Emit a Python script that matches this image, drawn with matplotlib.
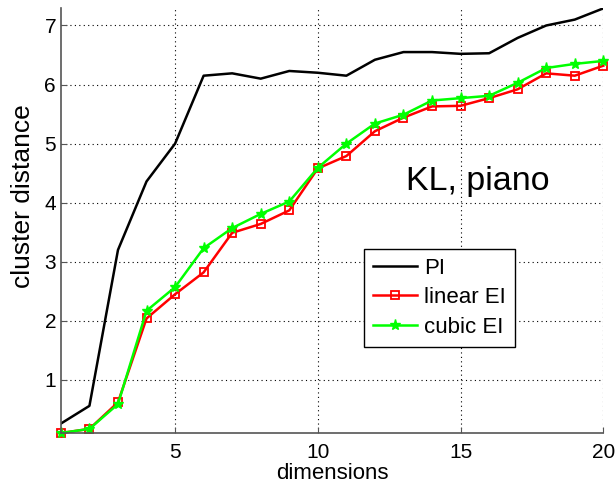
import matplotlib
matplotlib.use("Agg")
import matplotlib.pyplot as plt

plt.rcParams["font.family"] = ["Liberation Sans", "DejaVu Sans"]

# cluster distance vs. number of dimensions (KL divergence, piano set)
dims = list(range(1, 21))
pi_vals = [0.26, 0.56, 3.2, 4.36, 5.0, 6.15, 6.19, 6.1, 6.23, 6.2,
           6.15, 6.42, 6.55, 6.55, 6.52, 6.53, 6.79, 7.0, 7.1, 7.29]
linear_ei = [0.1, 0.17, 0.62, 2.04, 2.45, 2.82, 3.49, 3.64, 3.87, 4.58,
             4.79, 5.21, 5.44, 5.63, 5.64, 5.77, 5.92, 6.19, 6.15, 6.32]
cubic_ei = [0.1, 0.17, 0.59, 2.17, 2.57, 3.23, 3.57, 3.81, 4.02, 4.59,
            5.0, 5.34, 5.49, 5.73, 5.77, 5.81, 6.03, 6.28, 6.35, 6.4]

fig = plt.figure(figsize=(6.15, 4.86), dpi=100)
ax = fig.add_axes([0.099, 0.109, 0.882, 0.875])

ax.plot(dims, pi_vals, color="black", linewidth=1.8, label="PI")
ax.plot(dims, linear_ei, color="red", linewidth=1.8, marker="s",
        markersize=6, markerfacecolor="none", markeredgewidth=1.3,
        label="linear EI", clip_on=False)
ax.plot(dims, cubic_ei, color="#00ff00", linewidth=1.8, marker="*",
        markersize=8, label="cubic EI", clip_on=False)

ax.set_xlim(1, 20)
ax.set_ylim(0.1, 7.3)
ax.set_xticks([5, 10, 15, 20])
ax.set_yticks([1, 2, 3, 4, 5, 6, 7])
ax.grid(True, color="black", linestyle=(0, (1, 3)), linewidth=0.8)
ax.tick_params(direction="in", labelsize=15, length=4, color="#555555")
ax.tick_params(axis="x", pad=7)

for side in ("top", "right"):
    ax.spines[side].set_visible(False)
for side in ("left", "bottom"):
    ax.spines[side].set_color("#555555")
    ax.spines[side].set_linewidth(1.2)

ax.set_xlabel("dimensions", fontsize=16, labelpad=1)
ax.set_ylabel("cluster distance", fontsize=19)
ax.yaxis.set_label_coords(-0.047, 0.558)

ax.text(15.6, 4.22, "KL, piano", fontsize=24.5, ha="center", va="baseline")

leg = ax.legend(loc="upper left", bbox_to_anchor=(0.559, 0.433),
                fontsize=16, fancybox=False, framealpha=1,
                edgecolor="black", handlelength=2.0, borderpad=0.4,
                labelspacing=0.38, handletextpad=0.3, borderaxespad=0)
leg.get_frame().set_linewidth(1.0)

fig.savefig("out.png", dpi=100)
